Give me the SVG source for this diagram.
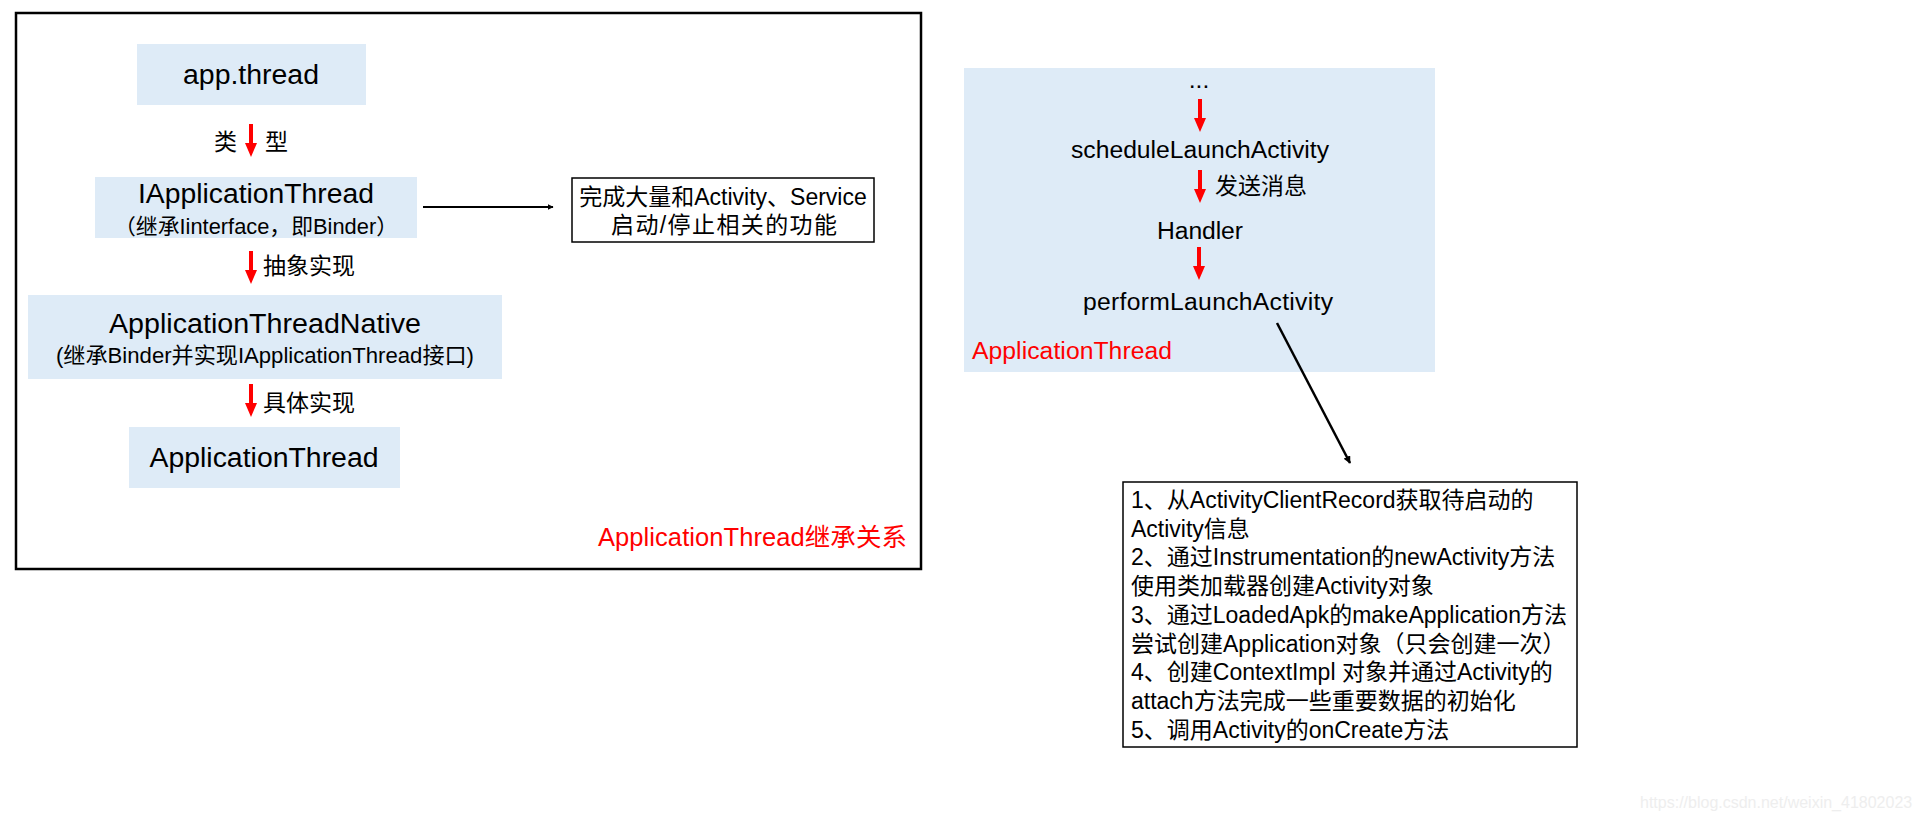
<svg xmlns="http://www.w3.org/2000/svg" width="1920" height="822" viewBox="0 0 1920 822">
<style>
text{font-family:"Liberation Sans","Noto Sans CJK SC",sans-serif;fill:#000}
.fill{fill:#DEEBF7}
.t28{font-size:28.4px;text-anchor:middle}
.sub{font-size:21.5px;text-anchor:middle}
.cn{font-size:23px}
.red{fill:#FF0000}
.rt{font-size:24.7px;text-anchor:middle}
.note{font-size:23px}
.ra{fill:#FF0000}
.blk{stroke:#000;fill:none}
</style>
<defs>
<marker id="ah" viewBox="0 0 10 10" refX="9" refY="5" markerWidth="3" markerHeight="3" orient="auto" markerUnits="strokeWidth">
<path d="M0,0 L10,5 L0,10 Z" fill="#000"/>
</marker>
<path id="redArrow" d="M-2,0 H2 V19 H6 L0,33 L-6,19 H-2 Z"/>
</defs>

<rect x="16" y="13" width="905" height="556" fill="none" stroke="#000" stroke-width="2.5"/>

<g id="node-appthread">
<rect class="fill" x="137" y="44" width="229" height="61"/>
<text x="251" y="84" class="t28" textLength="136" lengthAdjust="spacingAndGlyphs">app.thread</text>
</g>

<g id="node-iapplicationthread">
<rect class="fill" x="95" y="177" width="322" height="61"/>
<text x="256" y="203" class="t28" textLength="236" lengthAdjust="spacingAndGlyphs">IApplicationThread</text>
<text x="256" y="234" class="sub" textLength="284" lengthAdjust="spacingAndGlyphs">（继承Iinterface，即Binder）</text>
</g>

<g id="node-function-note">
<rect x="572" y="178" width="302" height="64" fill="#fff" stroke="#000" stroke-width="1.5"/>
<text x="723" y="205" class="cn" text-anchor="middle">完成大量和Activity、Service</text>
<text x="724" y="233" class="cn" text-anchor="middle" textLength="226">启动/停止相关的功能</text>
</g>

<g id="node-applicationthreadnative">
<rect class="fill" x="28" y="295" width="474" height="84"/>
<text x="265" y="333" class="t28" textLength="312" lengthAdjust="spacingAndGlyphs">ApplicationThreadNative</text>
<text x="265" y="363" font-size="22" text-anchor="middle" textLength="418" lengthAdjust="spacingAndGlyphs">(继承Binder并实现IApplicationThread接口)</text>
</g>

<g id="node-applicationthread">
<rect class="fill" x="129" y="427" width="271" height="61"/>
<text x="264" y="467" class="t28" textLength="229" lengthAdjust="spacingAndGlyphs">ApplicationThread</text>
</g>

<text x="598" y="546" font-size="25.5" class="red" textLength="309">ApplicationThread继承关系</text>

<g id="node-applicationthread-flow">
<rect class="fill" x="964" y="68" width="471" height="304"/>
<text x="1199" y="88" class="rt">...</text>
<text x="1200" y="158" class="rt" textLength="258">scheduleLaunchActivity</text>
<text x="1215" y="194" class="cn">发送消息</text>
<text x="1200" y="239" class="rt" textLength="86">Handler</text>
<text x="1208" y="310" class="rt" textLength="250">performLaunchActivity</text>
<text x="972" y="359" font-size="24.7" class="red" textLength="200">ApplicationThread</text>
</g>

<g id="node-steps">
<rect x="1123" y="482" width="454" height="265" fill="#fff" stroke="#000" stroke-width="1.5"/>
<text class="note" x="1131" y="508">1、从ActivityClientRecord获取待启动的</text>
<text class="note" x="1131" y="537">Activity信息</text>
<text class="note" x="1131" y="565">2、通过Instrumentation的newActivity方法</text>
<text class="note" x="1131" y="594">使用类加载器创建Activity对象</text>
<text class="note" x="1131" y="623">3、通过LoadedApk的makeApplication方法</text>
<text class="note" x="1131" y="652">尝试创建Application对象（只会创建一次）</text>
<text class="note" x="1131" y="680">4、创建ContextImpl 对象并通过Activity的</text>
<text class="note" x="1131" y="709">attach方法完成一些重要数据的初始化</text>
<text class="note" x="1131" y="738">5、调用Activity的onCreate方法</text>
</g>

<g id="connectors">
<use href="#redArrow" x="251" y="124" class="ra"/>
<text x="214" y="150" class="cn">类</text>
<text x="265" y="150" class="cn">型</text>
<use href="#redArrow" x="251" y="251" class="ra"/>
<text x="263" y="274" class="cn">抽象实现</text>
<use href="#redArrow" x="251" y="384" class="ra"/>
<text x="263" y="411" class="cn">具体实现</text>
<line x1="423" y1="207" x2="553" y2="207" class="blk" stroke-width="2" marker-end="url(#ah)"/>
<use href="#redArrow" x="1200" y="99" class="ra"/>
<use href="#redArrow" x="1200" y="170" class="ra"/>
<use href="#redArrow" x="1199" y="247" class="ra"/>
<line x1="1277" y1="323" x2="1350" y2="463" class="blk" stroke-width="2.5" marker-end="url(#ah)"/>
</g>

<text x="1640" y="808" font-size="16" style="fill:#eeeeee">https://blog.csdn.net/weixin_41802023</text>
</svg>
